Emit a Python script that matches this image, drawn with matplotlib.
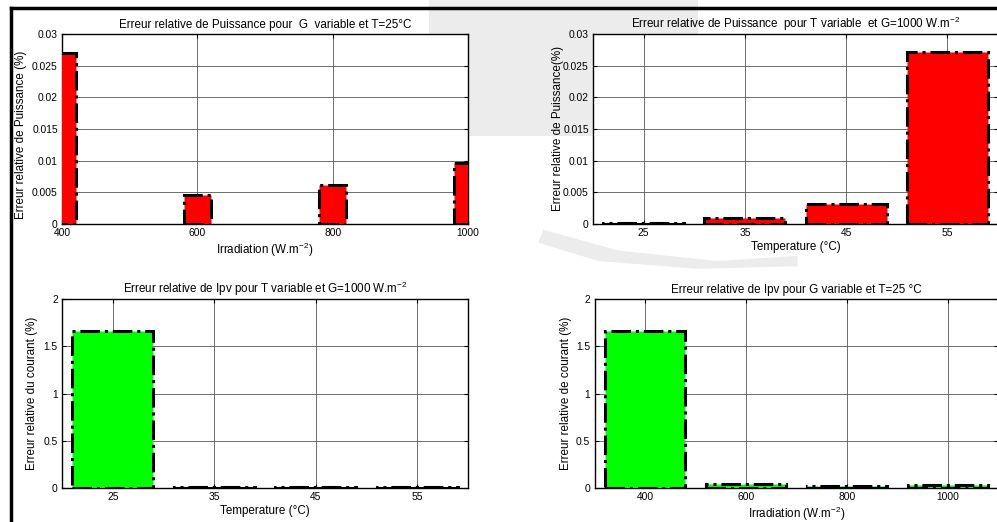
import matplotlib
matplotlib.use('Agg')
import matplotlib.pyplot as plt
from matplotlib.patches import Polygon
from matplotlib.lines import Line2D

plt.rcParams['font.family'] = ['Liberation Sans', 'DejaVu Sans']
plt.rcParams['mathtext.default'] = 'regular'

# data
irr = [400, 600, 800, 1000]
temp = [25, 35, 45, 55]
p_err_irr = [0.0270, 0.0045, 0.0062, 0.0096]
p_err_temp = [0.0001, 0.0010, 0.0032, 0.0271]
i_err_temp = [1.66, 0.01, 0.01, 0.01]
i_err_irr = [1.66, 0.04, 0.02, 0.035]

fig = plt.figure(figsize=(9.97, 5.22), dpi=100)

# faint watermark behind the axes
wm = '#ececec'
fig.patches.append(Polygon([(0.43, 1.0), (0.70, 1.0), (0.70, 0.74), (0.43, 0.74)],
                           closed=True, transform=fig.transFigure, fc=wm, ec='none', zorder=-5))
fig.patches.append(Polygon([(0.545, 0.56), (0.62, 0.52), (0.72, 0.50), (0.80, 0.51),
                            (0.80, 0.49), (0.70, 0.485), (0.60, 0.50), (0.54, 0.535)],
                           closed=True, transform=fig.transFigure, fc=wm, ec='none', zorder=-5))

# frame lines (top and left)
fig.lines.append(Line2D([0.011, 1.0], [0.984, 0.984], transform=fig.transFigure,
                        color='black', lw=2.5))
fig.lines.append(Line2D([0.011, 0.011], [0.0, 0.984], transform=fig.transFigure,
                        color='black', lw=2.5))

FS = 8.4


def style(ax, xlim, ylim, xticks, yticks, ylabels):
    ax.set_xlim(*xlim)
    ax.set_ylim(*ylim)
    ax.set_xticks(xticks)
    ax.set_yticks(yticks)
    ax.set_yticklabels(ylabels)
    ax.grid(True, color='#555555', lw=0.6)
    ax.set_axisbelow(True)
    ax.tick_params(direction='in', top=True, right=True, length=3, width=0.8,
                   labelsize=7.4, pad=3)
    for s in ax.spines.values():
        s.set_linewidth(1.0)


def bars(ax, x, y, w, color):
    ax.bar(x, y, width=w, color=color, edgecolor='black', linestyle='-.',
           linewidth=2.2, zorder=3)


py = [0, 0.005, 0.01, 0.015, 0.02, 0.025, 0.03]
pyl = ['0', '0.005', '0.01', '0.015', '0.02', '0.025', '0.03']
iy = [0, 0.5, 1, 1.5, 2]
iyl = ['0', '0.5', '1', '1.5', '2']

ax1 = fig.add_axes([0.0622, 0.5709, 0.4072, 0.364])
bars(ax1, irr, p_err_irr, 40, '#ff0000')
style(ax1, (400, 1000), (0, 0.03), irr, py, pyl)
ax1.set_title('Erreur relative de Puissance pour  G  variable et T=25°C', fontsize=FS, pad=4)
ax1.set_xlabel('Irradiation (W.m$^{-2}$)', fontsize=FS, labelpad=2)
ax1.set_ylabel('Erreur relative de Puissance (%)', fontsize=FS)
ax1.yaxis.set_label_coords(-0.086, 0.47)

ax2 = fig.add_axes([0.5948, 0.5709, 0.4062, 0.364])
bars(ax2, temp, p_err_temp, 8, '#ff0000')
style(ax2, (20, 60), (0, 0.03), temp, py, pyl)
ax2.set_title('Erreur relative de Puissance  pour T variable  et G=1000 W.m$^{-2}$',
              fontsize=FS, pad=4)
ax2.set_xlabel('Temperature (°C)', fontsize=FS, labelpad=2)
ax2.set_ylabel('Erreur relative de Puissance(%)', fontsize=FS)
ax2.yaxis.set_label_coords(-0.072, 0.5)

ax3 = fig.add_axes([0.0622, 0.0651, 0.4072, 0.362])
bars(ax3, temp, i_err_temp, 8, '#00ff00')
style(ax3, (20, 60), (0, 2), temp, iy, iyl)
ax3.set_title('Erreur relative de Ipv pour T variable et G=1000 W.m$^{-2}$', fontsize=FS, pad=4)
ax3.set_xlabel('Temperature (°C)', fontsize=FS, labelpad=2)
ax3.set_ylabel('Erreur relative du courant (%)', fontsize=FS)
ax3.yaxis.set_label_coords(-0.059, 0.5)

ax4 = fig.add_axes([0.5963, 0.0651, 0.4052, 0.362])
bars(ax4, irr, i_err_irr, 160, '#00ff00')
style(ax4, (300, 1100), (0, 2), irr, iy, iyl)
ax4.set_title('Erreur relative de Ipv pour G variable et T=25 °C', fontsize=FS, pad=4)
ax4.set_xlabel('Irradiation (W.m$^{-2}$)', fontsize=FS, labelpad=2)
ax4.set_ylabel('Erreur relative de courant (%)', fontsize=FS)
ax4.yaxis.set_label_coords(-0.056, 0.5)

fig.savefig('out.png', dpi=100)
